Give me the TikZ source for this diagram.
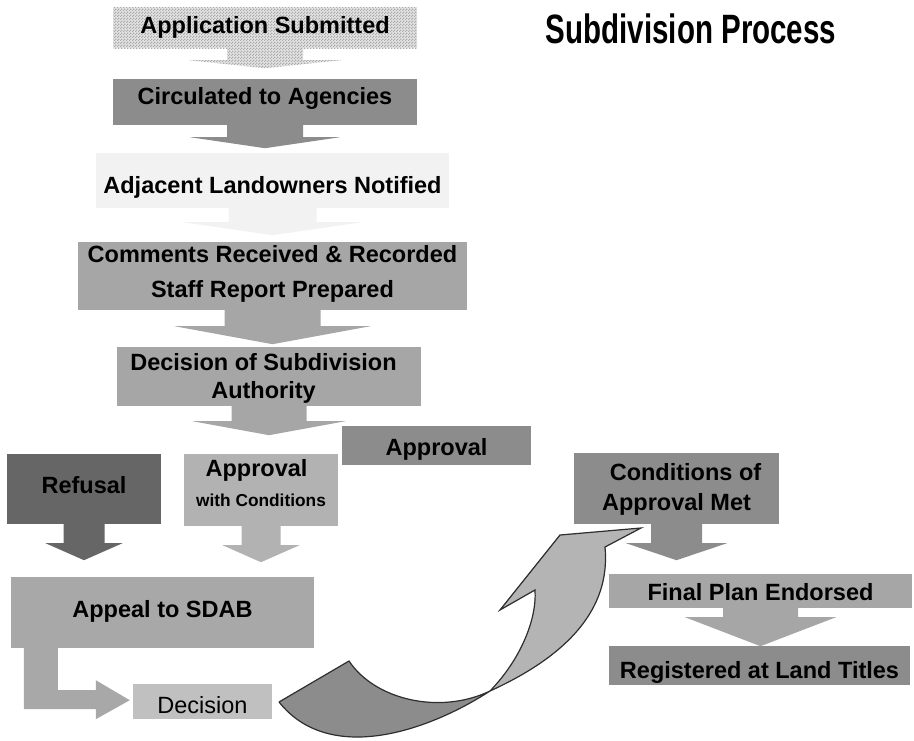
\documentclass[tikz,border=0pt]{standalone}
\usepackage{fontspec}
\newfontfamily\arialfont{Liberation Sans}
\usetikzlibrary{patterns}

\definecolor{appdark}{HTML}{ABABAB}
\definecolor{applight}{HTML}{E4E4E4}
\definecolor{midgray}{HTML}{8C8C8C}
\definecolor{palegray}{HTML}{F2F2F2}
\definecolor{boxgray}{HTML}{A6A6A6}
\definecolor{darkgray}{HTML}{666666}
\definecolor{condgray}{HTML}{B2B2B2}
\definecolor{appealgray}{HTML}{A8A8A8}
\definecolor{decgray}{HTML}{C0C0C0}
\definecolor{bendlight}{HTML}{B4B4B4}
\definecolor{bendline}{HTML}{2E2E2E}

% a finer checkerboard than the one of the library
\pgfdeclarepatternformonly{finechecker}{\pgfpointorigin}{\pgfqpoint{3pt}{3pt}}{\pgfqpoint{3pt}{3pt}}{%
  \pgfpathrectangle{\pgfpointorigin}{\pgfqpoint{1.5pt}{1.5pt}}%
  \pgfpathrectangle{\pgfqpoint{1.5pt}{1.5pt}}{\pgfqpoint{1.5pt}{1.5pt}}%
  \pgfusepath{fill}}

% block arrow pointing down: style, start, shaft half width, shaft length, head half width, head length
\newcommand{\downblock}[6]{%
  \fill[#1] (#2) ++(-#3,0) -- ++(0,#4) -- ++({#3-#5},0) -- ++(#5,#6)
    -- ++(#5,-#6) -- ++({#3-#5},0) -- ++(0,-#4) -- cycle;}

\tikzset{
  stage/.style={fill=#1, inner sep=0pt, align=center, text depth=0pt,
    font=\arialfont\bfseries\fontsize{23.5}{28}\selectfont},
  checkered/.style={preaction={fill=applight}, pattern=finechecker, pattern color=appdark}
}

\begin{document}
\begin{tikzpicture}[x=1pt, y=-1pt]
  \useasboundingbox (0,0) rectangle (914,740);

  %title
  \node[anchor=base, font=\arialfont\bfseries\fontsize{41}{44}\selectfont] (title) at (691,43)
    {\scalebox{0.72}[1]{Subdivision Process}};

  %main column of stages
  \node[stage=white, checkered, minimum width=304, minimum height=41, text height=11.6] (submitted)
    at (265,27.5) {Application Submitted};
  \node[stage=midgray, minimum width=304, minimum height=46, text height=5] (circulated)
    at (265,102) {Circulated to Agencies};
  \node[stage=palegray, minimum width=353, minimum height=55, text height=25] (notified)
    at (272.5,180.5) {Adjacent Landowners Notified};
  \node[stage=boxgray, minimum width=389, minimum height=68, text height=42,
    font=\arialfont\bfseries\fontsize{23.5}{35}\selectfont] (comments) at (272.5,276)
    {Comments Received \& Recorded\\Staff Report Prepared};
  \node[stage=boxgray, minimum width=304, minimum height=59, text height=43] (authority) at (269,376.5)
    {\hspace*{-11pt}Decision of Subdivision\\\hspace*{-11pt}Authority};

  %arrows between the stages
  \downblock{checkered}{submitted.south}{38}{12}{76}{8}
  \downblock{midgray}{circulated.south}{38}{12}{75}{11}
  \downblock{palegray}{notified.south}{44}{14}{89.5}{13}
  \downblock{boxgray}{comments.south}{48}{16}{98}{18}
  \downblock{boxgray}{authority.south}{37.5}{15}{76.5}{14}

  %three outcomes
  \node[stage=midgray, minimum width=189, minimum height=39, text height=19] (approval)
    at (436.5,445.5) {Approval};
  \node[stage=darkgray, minimum width=154, minimum height=70, text height=8] (refusal)
    at (84,489) {Refusal};
  \node[stage=condgray, minimum width=154, minimum height=72, text height=32,
    font=\arialfont\bfseries\fontsize{23.5}{30}\selectfont] (withcond) at (261,490)
    {\hspace*{-9pt}Approval\\{\fontsize{17.3}{30}\selectfont with Conditions}};
  \downblock{darkgray}{refusal.south}{20.5}{19}{38.5}{17}
  \downblock{condgray}{withcond.south}{19.5}{19}{38.5}{17}

  %appeal branch
  \node[stage=appealgray, minimum width=303, minimum height=71, text height=9] (appeal)
    at (162.5,612.5) {Appeal to SDAB};
  \node[stage=decgray, minimum width=139, minimum height=35, text height=23,
    font=\arialfont\fontsize{23.5}{28}\selectfont] (decision) at (202.5,701.5) {Decision};
  \fill[appealgray] (appeal.south west) ++(13,0) -- ++(0,61) -- ++(72,0) -- ++(0,10)
    -- ++(34,-19) -- ++(-34,-20) -- ++(0,10) -- ++(-38,0) -- ++(0,-42) -- cycle;

  %right column
  \node[stage=midgray, minimum width=205, minimum height=71, text height=43,
    font=\arialfont\bfseries\fontsize{23.5}{30}\selectfont] (met) at (676.5,488.5)
    {\hspace*{18pt}Conditions of\\Approval Met};
  \node[stage=boxgray, minimum width=303, minimum height=34, text height=18] (endorsed)
    at (760.5,591) {Final Plan Endorsed};
  \node[stage=midgray, minimum width=301, minimum height=39, text height=25] (registered)
    at (759.5,665.5) {Registered at Land Titles};
  \downblock{midgray}{met.south}{25.5}{19}{50.5}{17}
  \downblock{boxgray}{endorsed.south}{37.5}{9}{75.5}{29}

  %twisted curved arrow from decision up to conditions met
  \coordinate (tail) at (279,702);
  \coordinate (twist) at (490,691);
  \coordinate (tip) at (641,528);
  \draw[bendline, fill=bendlight, line width=1.2pt, line join=miter]
    (twist) .. controls (520,660) and (537,620) .. (535,590) -- (500,610) -- (560,535)
    -- (tip) -- (605,547) .. controls (610,600) and (580,650) .. (twist);
  \draw[bendline, fill=midgray, line width=1.2pt, line join=miter]
    (tail) -- (349,661) .. controls (375,700) and (440,715) .. (twist)
    .. controls (430,730) and (330,766) .. (tail);
\end{tikzpicture}
\end{document}
